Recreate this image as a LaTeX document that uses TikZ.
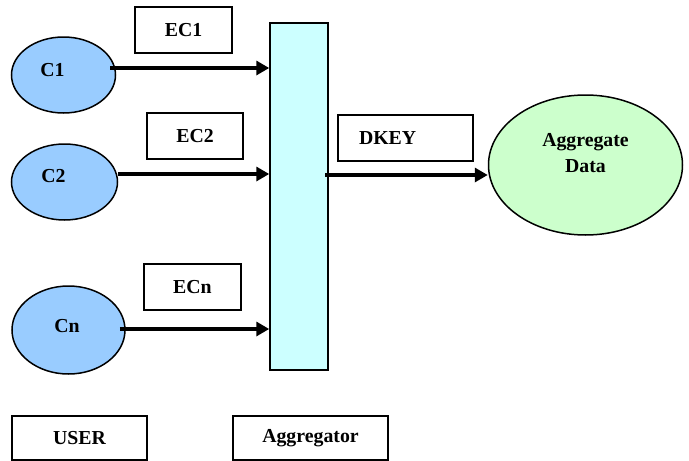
\documentclass[tikz,border=0pt]{standalone}
\usepackage{fontspec}
\setmainfont{Liberation Serif}
\usepackage{xcolor}
\usetikzlibrary{arrows.meta,positioning,shapes.geometric}
\definecolor{userblue}{RGB}{153,204,255}
\definecolor{aggcyan}{RGB}{204,255,255}
\definecolor{datagreen}{RGB}{204,255,204}

\begin{document}
\begin{tikzpicture}[
    x=1pt, y=-1pt,
    font=\fontsize{19.8}{22}\selectfont\bfseries,
    client/.style={draw=black, ellipse, fill=userblue, line width=1.5pt, inner sep=0pt,
                   minimum width=104pt, minimum height=76pt},
    keybox/.style={draw=black, rectangle, fill=white, line width=1.3pt, inner sep=0pt,
                   minimum width=97pt, minimum height=46pt},
    arr/.style={-{Triangle[length=13pt,width=14pt]}, line width=4.5pt}
]
\useasboundingbox[fill=white] (0,0) rectangle (689,461);
% clients
\node[client, label={[xshift=-11pt,yshift=5pt]center:C1}] (c1) at (63.5,75) {};
\node[client, minimum width=106pt, label={[xshift=-11pt,yshift=6pt]center:C2}] (c2) at (64.5,182) {};
\node[client, minimum width=113pt, minimum height=88pt, label={[xshift=-1.5pt,yshift=4pt]center:Cn}] (cn) at (68.5,330) {};
% encrypted shares
\node[keybox] (ec1) at (183.5,30) {EC1};
\node[keybox, minimum width=96pt] (ec2) at (195,136) {EC2};
\node[keybox] (ecn) at (192.5,287) {ECn};
% aggregator bar
\node[draw=black, fill=aggcyan, line width=1.5pt, minimum width=58pt, minimum height=347pt,
      inner sep=0pt] (agg) at (299,196.5) {};
% result
\node[keybox, minimum width=135pt, text width=93pt, inner xsep=21pt, align=left] (dkey) at (405.5,138) {DKEY};
\node[client, fill=datagreen, minimum width=194pt, minimum height=140pt,
      label={[yshift=12pt,align=center,font=\fontsize{19.8}{26.5}\selectfont\bfseries]center:Aggregate\\Data}] (data) at (585.5,165) {};
% legend
\node[keybox, minimum width=135pt, minimum height=44pt] (user) at (79.5,438) {USER};
\node[keybox, minimum width=155pt, minimum height=44pt] (aggr) at (310.5,438) {Aggregator};
% connectors
\draw[arr] ([xshift=-6pt,yshift=7pt]c1.east) -- ([yshift=7pt]c1.east -| agg.west);
\draw[arr] ([yshift=8pt]c2.east) -- ([yshift=8pt]c2.east -| agg.west);
\draw[arr] ([xshift=-6pt,yshift=1pt]cn.east) -- ([yshift=1pt]cn.east -| agg.west);
\coordinate (k) at (325,175);
\draw[arr] (k) -- (k -| data.west);
\end{tikzpicture}
\end{document}
